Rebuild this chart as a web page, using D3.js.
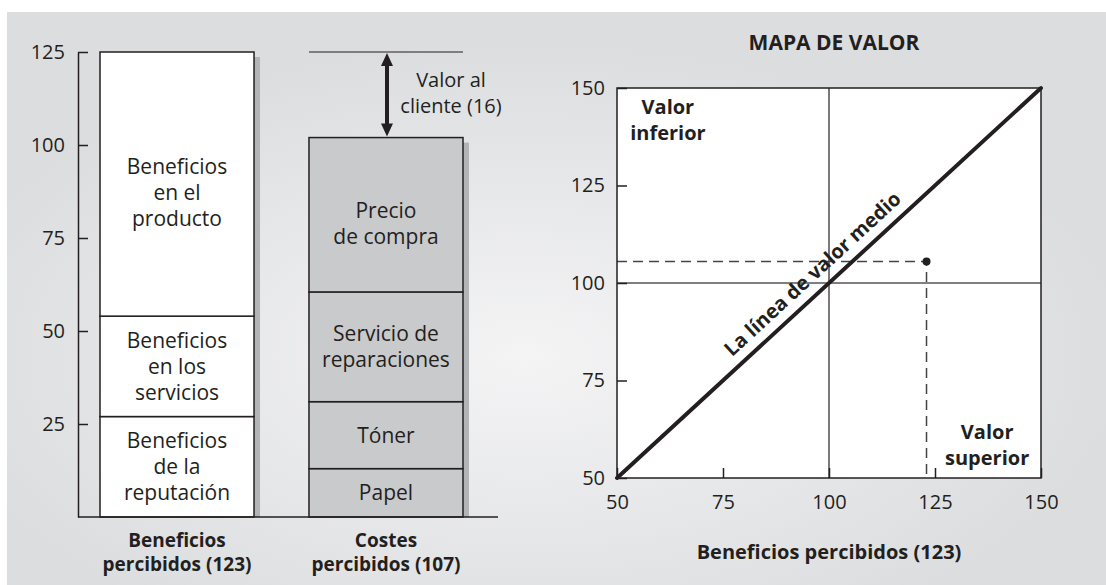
<!DOCTYPE html>
<html>
<head>
<meta charset="utf-8">
<script src="https://cdn.jsdelivr.net/npm/d3@7"></script>
<style>
  body { margin: 0; background: #fff; }
  svg text { font-family: "Open Sans", "Noto Sans", sans-serif; fill: #231f20; }
</style>
</head>
<body>
<svg id="chart" width="1106" height="585"></svg>
<script>
// left chart: stacked perceived benefits vs perceived costs
const barCategories = [
  ["Beneficios", "percibidos (123)"],
  ["Costes", "percibidos (107)"]
];
const benefitLabels = [
  ["Beneficios", "de la", "reputación"],
  ["Beneficios", "en los", "servicios"],
  ["Beneficios", "en el", "producto"]
];
const benefitValues = [27, 27, 71];
const costLabels = [
  ["Papel"],
  ["Tóner"],
  ["Servicio de", "reparaciones"],
  ["Precio", "de compra"]
];
const costValues = [13, 18, 29.5, 41.5];
const customerValueLabel = ["Valor al", "cliente (16)"];
const leftTicks = [25, 50, 75, 100, 125];

// right chart: value map
const mapTitle = "MAPA DE VALOR";
const mapTicks = [50, 75, 100, 125, 150];
const mapAxisTitle = "Beneficios percibidos (123)";
const averageLine = [[50, 50], [150, 150]];
const averageLabel = "La línea de valor medio";
const crossValue = 100;
const offerPoint = [123, 105.5];
const quadrantLabels = [
  { text: ["Valor", "inferior"], at: [62, 141.8] },
  { text: ["Valor", "superior"], at: [137.3, 58.5] }
];

const svg = d3.select("#chart");
const ink = "#231f20";

// background panel
const defs = svg.append("defs");
const grad = defs.append("radialGradient").attr("id", "bg")
  .attr("cx", 0.47).attr("cy", 0.6).attr("r", 0.55);
grad.append("stop").attr("offset", "0%").attr("stop-color", "#f4f4f5");
grad.append("stop").attr("offset", "100%").attr("stop-color", "#dcdddf");
svg.append("rect").attr("x", 7).attr("y", 12).attr("width", 1099).attr("height", 573)
  .attr("fill", "url(#bg)");

function multiline(g, lines, x, yCenter, lh, opts) {
  const t = g.append("text").attr("x", x).attr("text-anchor", "middle")
    .attr("font-size", opts.size).attr("font-weight", opts.weight || 400);
  const y0 = yCenter - (lines.length - 1) * lh / 2;
  lines.forEach((l, i) => {
    t.append("tspan").attr("x", x).attr("y", y0 + i * lh).attr("dy", "0.35em").text(l);
  });
  return t;
}

// ---------- left chart ----------
const yL = d3.scaleLinear().domain([0, 125]).range([517, 52]);
const xL = d3.scaleBand().domain(d3.range(barCategories.length))
  .range([100, 463]).paddingInner(0.263).paddingOuter(0);
const left = svg.append("g");

function stack(values) {
  let acc = 0;
  return values.map(v => { const s = { y0: acc, y1: acc + v }; acc += v; return s; });
}
const series = [
  { vals: stack(benefitValues), labels: benefitLabels, fill: "#ffffff" },
  { vals: stack(costValues), labels: costLabels, fill: "#c9cacc" }
];

series.forEach((s, i) => {
  const x0 = xL(i), w = xL.bandwidth();
  const top = s.vals[s.vals.length - 1].y1;
  // drop shadow
  left.append("rect").attr("x", x0 + w).attr("y", yL(top) + 5)
    .attr("width", 6).attr("height", yL(0) - yL(top) - 5).attr("fill", "#b3b4b6");
  left.selectAll(null).data(s.vals).enter().append("rect")
    .attr("x", x0).attr("width", w)
    .attr("y", d => yL(d.y1)).attr("height", d => yL(d.y0) - yL(d.y1))
    .attr("fill", s.fill).attr("stroke", ink).attr("stroke-width", 1.5);
  s.vals.forEach((d, j) => {
    const h = yL(d.y0) - yL(d.y1);
    // tall segments carry their label a little below the middle
    const shift = h > 140 ? 9 : 0;
    multiline(left, s.labels[j], x0 + w / 2, (yL(d.y0) + yL(d.y1)) / 2 + shift, 26, { size: 21 });
  });
  multiline(left, barCategories[i], x0 + w / 2, 552, 24, { size: 19, weight: 700 });
});

// axis
const axL = left.append("g").attr("transform", "translate(78,0)")
  .call(d3.axisLeft(yL).tickValues(leftTicks).tickSizeInner(-10).tickSizeOuter(0).tickPadding(13));
axL.attr("font-family", null);
axL.select(".domain").attr("stroke", ink).attr("stroke-width", 1.5);
axL.selectAll(".tick line").attr("stroke", ink).attr("stroke-width", 1.5);
axL.selectAll(".tick text").attr("font-size", 20).attr("fill", ink);

// baseline
left.append("line").attr("x1", 78).attr("x2", 498).attr("y1", yL(0)).attr("y2", yL(0))
  .attr("stroke", ink).attr("stroke-width", 1.5);

// customer value bracket
const costTop = d3.sum(costValues);
const benTop = d3.sum(benefitValues);
left.append("line").attr("x1", xL(1)).attr("x2", xL(1) + xL.bandwidth())
  .attr("y1", yL(benTop)).attr("y2", yL(benTop)).attr("stroke", ink).attr("stroke-width", 1.2);
const ax = xL(1) + xL.bandwidth() / 2 + 1;
left.append("line").attr("x1", ax).attr("x2", ax)
  .attr("y1", yL(benTop) + 8).attr("y2", yL(costTop) - 8)
  .attr("stroke", ink).attr("stroke-width", 4);
left.append("path").attr("fill", ink)
  .attr("d", `M${ax},${yL(benTop) + 1} l-6,13 l12,0 Z M${ax},${yL(costTop) - 1} l-6,-13 l12,0 Z`);
multiline(left, customerValueLabel, 451, 93, 26, { size: 20 });

// ---------- right chart ----------
const xR = d3.scaleLinear().domain([50, 150]).range([617, 1041]);
const yR = d3.scaleLinear().domain([50, 150]).range([478, 88]);
const right = svg.append("g");

right.append("text").attr("x", 834).attr("y", 43).attr("dy", "0.35em")
  .attr("text-anchor", "middle").attr("font-size", 21).attr("font-weight", 700).text(mapTitle);

right.append("rect").attr("x", xR(50)).attr("y", yR(150))
  .attr("width", xR(150) - xR(50)).attr("height", yR(50) - yR(150))
  .attr("fill", "#fff");

// crosshair at average
right.append("line").attr("x1", xR(crossValue)).attr("x2", xR(crossValue))
  .attr("y1", yR(50)).attr("y2", yR(150)).attr("stroke", ink).attr("stroke-width", 1.2);
right.append("line").attr("x1", xR(50)).attr("x2", xR(150))
  .attr("y1", yR(crossValue)).attr("y2", yR(crossValue)).attr("stroke", "#555").attr("stroke-width", 1.4);

// dashed guides to offer point
right.append("path")
  .attr("d", `M${xR(50)},${yR(offerPoint[1])} H${xR(offerPoint[0])} V${yR(50)}`)
  .attr("fill", "none").attr("stroke", "#444").attr("stroke-width", 1.5)
  .attr("stroke-dasharray", "10,6");

right.append("rect").attr("x", xR(50)).attr("y", yR(150))
  .attr("width", xR(150) - xR(50)).attr("height", yR(50) - yR(150))
  .attr("fill", "none").attr("stroke", ink).attr("stroke-width", 1.5);

// axes
const axY = right.append("g").attr("transform", `translate(${xR(50)},0)`)
  .call(d3.axisLeft(yR).tickValues(mapTicks).tickSizeInner(-10).tickSizeOuter(0).tickPadding(12));
const axX = right.append("g").attr("transform", `translate(0,${yR(50)})`)
  .call(d3.axisBottom(xR).tickValues(mapTicks).tickSizeInner(-10).tickSizeOuter(0).tickPadding(17));
[axY, axX].forEach(a => {
  a.attr("font-family", null);
  a.select(".domain").remove();
  a.selectAll(".tick line").attr("stroke", ink).attr("stroke-width", 1.5);
  a.selectAll(".tick text").attr("font-size", 20).attr("fill", ink);
});

// average value line
right.append("line")
  .attr("x1", xR(averageLine[0][0])).attr("y1", yR(averageLine[0][1]))
  .attr("x2", xR(averageLine[1][0])).attr("y2", yR(averageLine[1][1]))
  .attr("stroke", ink).attr("stroke-width", 4).attr("stroke-linecap", "round");

const ang = Math.atan2(yR(50) - yR(150), xR(150) - xR(50)) * 180 / Math.PI;
right.append("text")
  .attr("transform", `translate(${xR(crossValue)},${yR(crossValue)}) rotate(${-ang}) translate(-6,-11)`)
  .attr("text-anchor", "middle").attr("font-size", 20).attr("font-weight", 700)
  .text(averageLabel);

right.append("circle").attr("cx", xR(offerPoint[0])).attr("cy", yR(offerPoint[1]))
  .attr("r", 4).attr("fill", ink);

quadrantLabels.forEach(q => {
  multiline(right, q.text, xR(q.at[0]), yR(q.at[1]), 26, { size: 20, weight: 700 });
});

right.append("text").attr("x", xR(100)).attr("y", 552).attr("dy", "0.35em")
  .attr("text-anchor", "middle").attr("font-size", 20).attr("font-weight", 700).text(mapAxisTitle);
</script>
</body>
</html>
